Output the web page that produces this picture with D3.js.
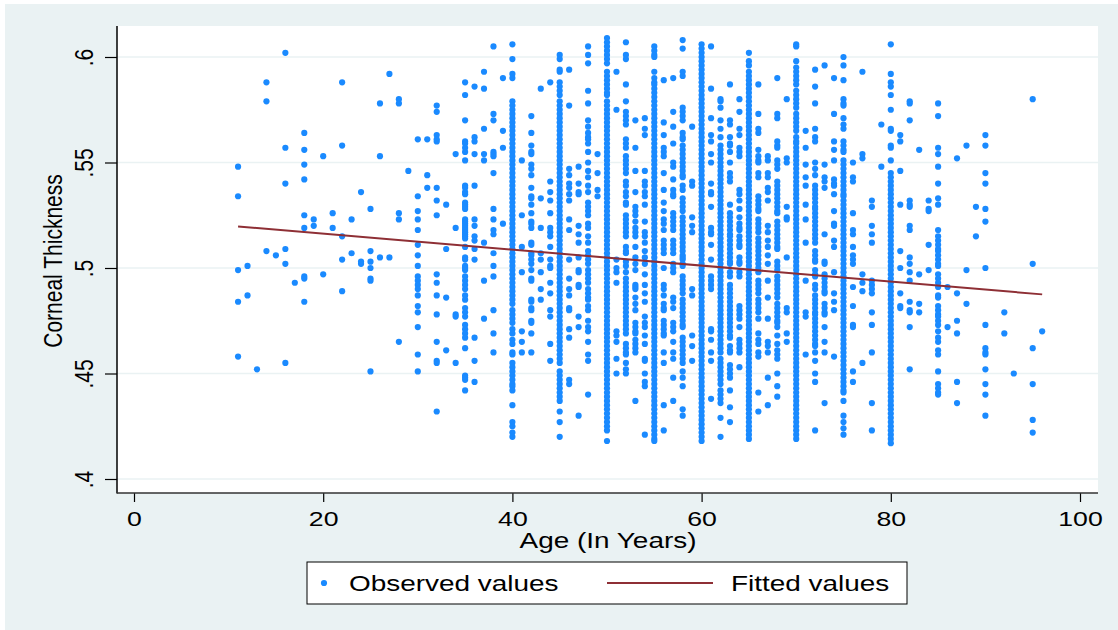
<!DOCTYPE html>
<html>
<head>
<meta charset="utf-8">
<script src="https://cdn.jsdelivr.net/npm/d3@7"></script>
<style>
  body { margin: 0; background: #fff; }
  text { font-family: "Liberation Sans", Arial, sans-serif; fill: #000; }
</style>
</head>
<body>
<div id="chart"></div>
<script>
// ages (x) and corneal thickness readings (y, in thousandths) per age
var ages = [11,12,13,14,15,16,17,18,19,20,21,22,23,24,25,26,27,28,29,30,31,32,33,34,35,36,37,38,39,40,
            41,42,43,44,45,46,47,48,49,50,51,52,53,54,55,56,57,58,59,60,61,62,63,64,65,66,67,68,69,70,
            71,72,73,74,75,76,77,78,79,80,81,82,83,84,85,86,87,88,89,90,92,93,95,96];

var thickness = [
  [548,534,499,484,458],
  [501,487],
  [452],
  [588,579,508],
  [506],
  [602,557,540,509,502,455],
  [493],
  [564,556,549,542,525,519,496,495,484],
  [523,520],
  [553,497],
  [526,519],
  [588,558,515,504,489],
  [523,507],
  [536,503,502],
  [528,508,503,500,495,494,451],
  [578,553,505],
  [592,505],
  [580,578,526,523,465],
  [546],
  [561,534,527,523,518,511,506,501,496,494,492,490,487,482,479,472,459,451],
  [561,544,538],
  [577,574,563,561,560,538,532,525,497,493,487,478,465,456,455,432],
  [530,509,486,461],
  [554,519,478,477,455],
  [588,582,570,560,559,557,555,551,539,538,536,535,531,530,529,528,523,522,521,520,519,518,517,516,515,514,510,505,504,501,500,499,496,494,492,490,487,485,481,479,477,473,471,469,467,462,449,448,447,442],
  [586,562,560,554,539,523,520,515,513,509,504,467,456,446],
  [593,585,566,554,551,512,494,476],
  [605,573,570,555,554,553,545,528,523,518,516,507,501,496,480,469,460],
  [590,565,557,521],
  // 40
  [606,599,592,590,579,577,575,573,571,569,567,565,563,561,559,557,555,553,551,549,547,545,543,541,539,537,535,533,531,529,527,525,523,521,519,517,515,513,511,509,507,505,503,501,499,497,495,493,491,489,487,485,483,480,478,476,474,471,469,466,464,460,459,455,453,451,449,447,445,444,442,435,427,425,422,420],
  [551,525,510,498,470,465,460],
  [572,564,558,555,554,549,547,544,538,534,533,530,526,522,521,519,512,511,507,506,504,502,499,495,494,485,484,481,480,475,474,469,460],
  [585,533,519,507,504,498,490,485],
  [588,541,536,532,526,519,517,515,510,504,501,500,493,488,480,477,464,456],
  // 45
  [601,599,594,593,588,586,584,582,579,577,575,573,571,569,567,565,563,561,559,557,555,553,551,549,547,545,543,541,539,537,535,533,531,529,527,525,523,521,519,517,515,513,511,509,507,505,503,501,499,497,495,493,491,489,487,485,483,481,479,477,475,473,471,469,467,465,463,461,459,457,455,451,449,447,445,443,441,439,437,432,427,420],
  [594,577,547,544,540,538,535,532,523,518,504,495,490,487,481,480,471,467,447,445],
  [548,540,536,535,520,516,512,505,499,498,492,491,477,472,430],
  [605,601,597,584,578,570,567,564,562,561,559,555,550,546,543,539,536,531,529,527,525,521,519,515,512,508,506,504,502,499,497,495,493,490,488,486,485,482,480,475,472,470,465,459,456,440],
  [554,545,537,534],
  // 50
  [609,607,605,603,601,599,597,593,591,589,587,585,583,582,579,577,575,573,571,569,567,565,563,561,559,557,555,553,551,549,547,545,543,541,539,537,535,533,531,529,527,525,523,521,519,517,515,513,511,509,507,505,503,501,499,497,495,493,491,489,487,485,483,481,479,477,475,473,471,469,467,465,463,461,459,457,455,453,451,449,447,445,443,441,439,437,435,433,431,429,427,425,423,418],
  [593,575,504,500,498,493,470,468,465,457,450],
  [607,601,599,587,579,574,572,570,568,561,559,557,553,551,549,547,545,541,539,536,534,531,530,525,523,521,519,517,515,510,508,507,503,501,498,495,493,491,489,487,485,483,481,479,477,475,473,471,469,464,462,460,459,455,452,450],
  [570,557,546,536,529,527,525,522,519,517,515,510,505,502,499,492,491,490,486,483,480,474,472,470,469,466,464,462,460,437],
  [571,566,563,546,541,539,536,534,530,522,517,515,512,508,505,502,497,492,488,484,477,474,472,468,464,457,456,450,446,444,421],
  // 55
  [605,603,601,600,593,590,588,587,585,583,581,579,577,575,573,571,569,567,565,563,561,559,557,555,553,551,549,547,545,543,541,539,537,535,533,531,529,527,525,523,521,519,517,515,513,511,509,507,505,503,501,499,497,495,493,491,489,487,485,483,481,479,477,475,473,471,469,467,465,463,461,459,457,455,453,451,449,447,445,443,441,439,437,435,433,431,429,427,425,423,421,419,418],
  [589,569,563,557,555,553,545,537,531,527,523,521,518,513,511,509,507,500,492,490,487,483,481,480,475,473,471,469,468,460,455,435,423],
  [590,574,567,559,550,548,542,537,535,534,526,524,522,520,518,513,511,509,507,502,500,498,486,484,481,474,472,470,465,460,457,448,437],
  [608,604,593,591,576,574,572,570,564,562,561,558,556,554,552,550,548,546,544,543,539,537,533,531,529,527,524,522,520,518,516,514,512,510,508,506,505,504,502,501,496,494,492,490,488,485,483,481,479,477,475,473,472,467,465,463,461,459,457,455,451,448,444,433,430],
  [567,541,539,524,520,517,490,487,468,463,456],
  // 60
  [606,604,602,600,598,596,594,592,590,588,586,584,582,580,578,576,574,572,570,568,566,564,562,560,558,556,554,552,550,548,546,544,542,540,538,536,534,532,530,528,526,524,522,520,518,516,514,512,510,508,506,504,502,500,498,496,494,492,490,488,486,484,482,480,478,476,474,472,470,468,466,464,462,460,458,456,454,452,450,448,446,444,442,440,438,436,434,432,430,428,426,424,422,420,418],
  [605,585,571,563,560,554,550,540,536,535,529,519,517,516,511,504,496,494,492,490,471,470,466,460,456,438],
  [580,579,576,570,566,562,558,556,554,552,550,548,546,544,542,540,538,536,534,532,530,528,526,524,522,520,518,516,514,512,510,508,506,504,502,500,498,496,494,492,490,488,486,484,482,480,478,476,474,472,470,468,466,464,462,460,457,455,453,451,449,447,445,442,440,438,436,429,420],
  [587,570,568,562,559,558,555,550,545,543,541,530,526,524,522,520,518,516,515,513,511,509,507,505,503,502,498,496,492,490,488,486,484,482,480,478,476,474,472,470,468,467,463,461,460,454,452,450,448,442,434,427],
  [580,574,566,563,557,555,553,537,535,532,528,524,521,519,518,515,513,511,510,505,503,502,498,496,482,480,478,476,472,466,464,462,460,453],
  // 65
  [602,598,596,593,591,589,587,585,583,581,579,577,575,573,571,569,567,565,563,561,559,557,555,553,551,549,547,545,543,541,539,537,535,533,531,529,527,525,523,521,519,517,515,513,511,509,507,505,503,501,499,497,495,493,491,489,487,485,483,481,479,477,475,473,471,469,467,465,463,461,459,457,455,453,451,449,447,445,443,441,439,437,435,433,431,429,427,425,423,421,419],
  [587,573,566,564,556,553,551,550,545,543,534,532,530,528,527,523,521,519,517,514,512,510,508,506,504,502,500,498,494,492,490,488,485,483,481,479,476,469,466,464,460,458,441,432],
  [553,551,545,543,538,536,532,520,517,513,510,506,502,494,486,476,465,463,460,448,435],
  [590,573,571,560,558,557,551,549,547,541,539,537,535,533,531,529,527,526,522,520,518,516,514,512,510,509,503,501,499,496,494,492,490,488,486,483,481,479,477,475,474,472,468,464,461,459,457,450,444,439],
  [580,552,550,529,524,523,505,481,479,469,465],
  // 70
  [606,605,598,595,593,591,589,587,584,582,580,578,576,573,571,569,567,565,562,560,559,557,555,553,551,549,547,545,543,541,539,537,535,533,531,529,527,525,523,521,519,517,515,513,511,509,507,505,503,501,499,497,495,493,491,489,487,485,483,481,479,477,475,473,471,469,467,465,463,461,459,457,455,453,451,449,447,445,443,441,439,437,435,433,431,429,427,425,423,421,419],
  [565,557,549,543,539,530,523,512,494,479,477,459],
  [594,586,578,566,562,560,550,547,544,539,537,535,533,531,529,528,526,524,522,520,518,516,514,512,508,506,504,503,499,497,496,492,490,487,485,483,481,479,478,476,474,472,470,468,466,464,463,460,456,450,446,423],
  [596,549,543,541,538,516,503,502,497,495,493,491,489,488,483,481,479,478,472,465,460,436],
  [590,573,560,556,551,542,540,539,535,527,521,520,513,510,498,488,484,480,458],
  // 75
  [600,596,589,580,578,577,571,568,566,560,558,556,555,551,549,547,545,543,541,539,537,535,534,532,530,528,526,524,522,520,518,516,514,512,510,508,506,504,502,500,498,496,494,492,490,488,486,484,482,480,478,476,474,472,470,468,466,464,462,460,458,456,454,452,450,448,446,444,442,441,437,430,427,424,421],
  [550,543,541,526,518,516,510,506,504,502,491,482,473,472,451,446],
  [593,554,552,497,493,489,455],
  [532,529,520,516,512,494,492,490,488,479,473,460,436,423],
  [568,548],
  // 80
  [606,592,588,586,582,575,566,565,558,557,551,545,543,541,539,537,535,533,531,529,527,525,523,521,519,517,515,513,511,509,507,505,503,501,499,497,495,493,491,489,487,485,483,481,479,477,475,473,471,469,467,465,463,461,459,457,455,453,451,449,447,445,443,441,439,437,435,433,431,429,427,425,423,421,419,417],
  [563,560,546,530,508,500,488,482,481],
  [579,578,570,532,530,529,520,518,505,502,498,494,484,480,479,472,452],
  [556,497,483,479],
  [532,528,527,511,499],
  [578,572,557,554,548,540,533,530,518,515,513,511,509,508,506,504,502,501,497,495,493,491,487,486,482,480,478,477,475,473,470,467,465,461,459,451,445,443,441,440],
  [491,472],
  [552,488,475,469,446,436],
  [558,499,483],
  [529,515],
  [563,558,545,540,528,522,500,473,462,460,459,452,445,440,430],
  [479,469],
  [450],
  [580,502,462,445,428,422],
  [470]
];

// fitted regression line end points
var fitAges = [11, 96];
var fitValues = [0.5197, 0.4875];

var xTicks = [0, 20, 40, 60, 80, 100];
var yTicks = [0.4, 0.45, 0.5, 0.55, 0.6];
var yTickLabels = [".4", ".45", ".5", ".55", ".6"];

var stretch = 1.27; // text in the picture is wider than normal

var svg = d3.select("#chart").append("svg").attr("width", 1118).attr("height", 630);

svg.append("rect").attr("x", 5).attr("y", 4).attr("width", 1113).attr("height", 626).attr("fill", "#eaf2f3");

var plotLeft = 117, plotRight = 1098, plotTop = 26, plotBottom = 493;
svg.append("rect").attr("x", plotLeft).attr("y", plotTop)
    .attr("width", plotRight - plotLeft).attr("height", plotBottom - plotTop).attr("fill", "#fff");

var x = d3.scaleLinear().domain([0, 100]).range([134, 1080]);
var y = d3.scaleLinear().domain([0.4, 0.6]).range([479, 57]);

// grid
svg.selectAll(".grid").data(yTicks).enter().append("line")
    .attr("x1", plotLeft).attr("x2", plotRight)
    .attr("y1", function(d){ return y(d); }).attr("y2", function(d){ return y(d); })
    .attr("stroke", "#eaf2f3").attr("stroke-width", 1.5);

// points
var points = [];
for (i = 0; i < ages.length; i++) {
    for (j = 0; j < thickness[i].length; j++) {
        points.push([ages[i], thickness[i][j] / 1000]);
    }
}
svg.append("g").selectAll("circle").data(points).enter().append("circle")
    .attr("cx", function(d){ return x(d[0]); })
    .attr("cy", function(d){ return y(d[1]); })
    .attr("r", 3.1)
    .attr("fill", "#1a8aff");

// fitted line
var fit = fitAges.map(function(a, k){ return [a, fitValues[k]]; });
svg.append("path").datum(fit)
    .attr("d", d3.line().x(function(d){ return x(d[0]); }).y(function(d){ return y(d[1]); }))
    .attr("fill", "none").attr("stroke", "#8e2f35").attr("stroke-width", 2);

// axes
var yAxis = d3.axisLeft(y).tickValues(yTicks).tickSize(12).tickSizeOuter(0)
    .tickFormat(function(d, k){ return yTickLabels[k]; });
var gy = svg.append("g").attr("transform", "translate(" + plotLeft + ",0)").call(yAxis);
gy.attr("font-family", null).attr("font-size", null);
gy.select(".domain").remove();
gy.selectAll("line").attr("stroke", "#000").attr("stroke-width", 1.2);
gy.selectAll("text")
    .attr("x", 0).attr("dy", null)
    .attr("text-anchor", "middle")
    .attr("transform", "translate(-24,0) scale(" + stretch + ",1) rotate(-90)")
    .style("font-size", "21px");

var xAxis = d3.axisBottom(x).tickValues(xTicks).tickSize(9).tickSizeOuter(0).tickFormat(d3.format("d"));
var gx = svg.append("g").attr("transform", "translate(0," + plotBottom + ")").call(xAxis);
gx.attr("font-family", null).attr("font-size", null);
gx.select(".domain").remove();
gx.selectAll("line").attr("stroke", "#000").attr("stroke-width", 1.2);
gx.selectAll("text")
    .attr("y", 33).attr("dy", null)
    .attr("transform", "scale(" + stretch + ",1)")
    .style("font-size", "21px");

svg.append("line").attr("x1", plotLeft).attr("x2", plotLeft).attr("y1", plotTop).attr("y2", plotBottom + 0.5)
    .attr("stroke", "#000").attr("stroke-width", 1.5);
svg.append("line").attr("x1", plotLeft).attr("x2", plotRight).attr("y1", plotBottom).attr("y2", plotBottom)
    .attr("stroke", "#333").attr("stroke-width", 1.5);

// titles
svg.append("text").attr("transform", "translate(61.5,261) scale(" + stretch + ",1) rotate(-90)")
    .attr("text-anchor", "middle").style("font-size", "21px").text("Corneal Thickness");
svg.append("text").attr("transform", "translate(608,548) scale(" + stretch + ",1)")
    .attr("text-anchor", "middle").style("font-size", "22px").text("Age (In Years)");

// legend
svg.append("rect").attr("x", 307).attr("y", 562).attr("width", 600).attr("height", 42)
    .attr("fill", "#fff").attr("stroke", "#000").attr("stroke-width", 1);
svg.append("circle").attr("cx", 324).attr("cy", 583).attr("r", 3.1).attr("fill", "#1a8aff");
svg.append("line").attr("x1", 607).attr("x2", 713).attr("y1", 583).attr("y2", 583)
    .attr("stroke", "#8e2f35").attr("stroke-width", 2);
svg.append("text").attr("transform", "translate(349,591) scale(" + stretch + ",1)")
    .style("font-size", "22px").text("Observed values");
svg.append("text").attr("transform", "translate(731,591) scale(" + stretch + ",1)")
    .style("font-size", "22px").text("Fitted values");
</script>
</body>
</html>
